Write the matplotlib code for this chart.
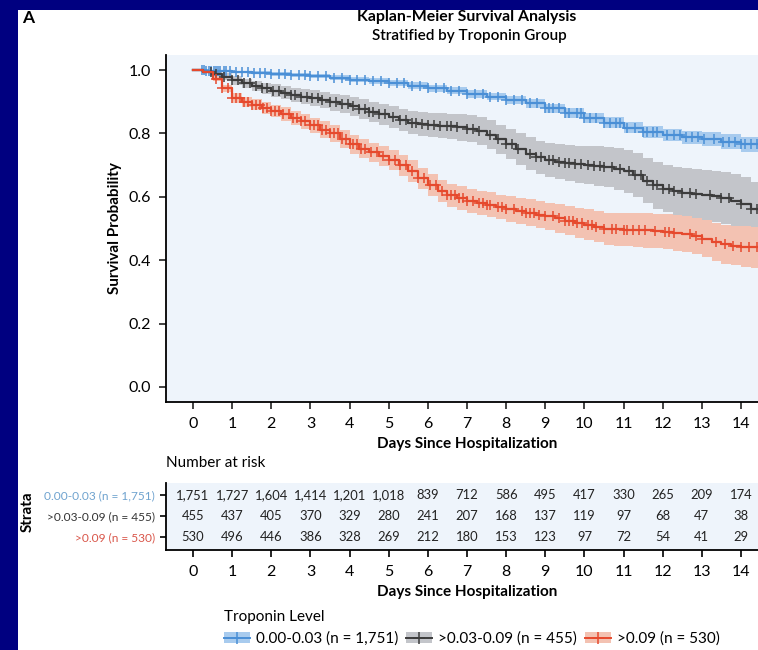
import numpy as np
import matplotlib
matplotlib.use("Agg")
import matplotlib.pyplot as plt
from matplotlib.patches import Rectangle, Patch
from matplotlib.lines import Line2D

plt.rcParams['font.family'] = ['Lato', 'DejaVu Sans']

# ---------------- data ----------------
groups = ["0.00-0.03 (n = 1,751)", ">0.03-0.09 (n = 455)", ">0.09 (n = 530)"]

blue_t = [0, 0.3, 0.6, 1, 1.5, 2, 2.5, 3, 3.5, 4, 4.5, 5, 5.5, 6, 6.5, 7, 7.5, 8, 8.5, 9,
          9.5, 10, 10.5, 11, 11.5, 12, 12.5, 13, 13.5, 14, 14.5]
blue_s = [1.0, 0.998, 0.996, 0.994, 0.991, 0.988, 0.985, 0.981, 0.976, 0.970, 0.965, 0.958,
          0.951, 0.943, 0.934, 0.925, 0.916, 0.906, 0.895, 0.879, 0.864, 0.849, 0.834, 0.818,
          0.803, 0.795, 0.788, 0.781, 0.774, 0.766, 0.759]
blue_hw = [0.0, 0.002, 0.003, 0.004, 0.005, 0.006, 0.006, 0.007, 0.008, 0.009, 0.009, 0.010,
           0.010, 0.011, 0.011, 0.012, 0.012, 0.013, 0.014, 0.015, 0.015, 0.016, 0.017, 0.018,
           0.019, 0.020, 0.021, 0.022, 0.023, 0.024, 0.025]

quarter_t = [0, 0.25, 0.5, 0.75, 1, 1.25, 1.5, 1.75, 2, 2.25, 2.5, 2.75, 3, 3.25, 3.5, 3.75,
             4, 4.25, 4.5, 4.75, 5, 5.25, 5.5, 5.75, 6, 6.25, 6.5, 6.75, 7, 7.25, 7.5, 7.75,
             8, 8.25, 8.5, 8.75, 9, 9.25, 9.5, 9.75, 10, 10.25, 10.5, 10.75, 11, 11.25, 11.5,
             11.75, 12, 12.25, 12.5, 12.75, 13, 13.25, 13.5, 13.75, 14, 14.25, 14.5]

gray_t = quarter_t
gray_s = [1.0, 0.995, 0.988, 0.978, 0.968, 0.958, 0.950, 0.942, 0.935, 0.928,
          0.922, 0.916, 0.911, 0.905, 0.898, 0.892, 0.885, 0.876, 0.868, 0.860,
          0.852, 0.842, 0.834, 0.829, 0.826, 0.824, 0.822, 0.819, 0.815, 0.807,
          0.796, 0.781, 0.766, 0.750, 0.736, 0.724, 0.715, 0.710, 0.706, 0.703,
          0.700, 0.697, 0.694, 0.688, 0.680, 0.668, 0.650, 0.636, 0.626, 0.618,
          0.612, 0.609, 0.606, 0.601, 0.596, 0.588, 0.578, 0.562, 0.552]
gray_hw = [0.0, 0.005, 0.008, 0.011, 0.014, 0.015, 0.016, 0.018, 0.020, 0.021,
           0.022, 0.024, 0.025, 0.026, 0.027, 0.029, 0.030, 0.031, 0.032, 0.033,
           0.034, 0.035, 0.036, 0.037, 0.038, 0.039, 0.040, 0.042, 0.043, 0.044,
           0.045, 0.046, 0.048, 0.050, 0.052, 0.053, 0.054, 0.055, 0.056, 0.058,
           0.060, 0.062, 0.063, 0.065, 0.067, 0.069, 0.071, 0.073, 0.075, 0.076,
           0.078, 0.079, 0.080, 0.081, 0.082, 0.084, 0.085, 0.086, 0.087]

red_t = quarter_t
red_s = [1.0, 0.993, 0.972, 0.942, 0.912, 0.898, 0.890, 0.881, 0.871, 0.861,
         0.850, 0.838, 0.825, 0.812, 0.800, 0.783, 0.766, 0.752, 0.740, 0.728,
         0.715, 0.700, 0.682, 0.658, 0.636, 0.618, 0.605, 0.596, 0.588, 0.581,
         0.575, 0.568, 0.562, 0.556, 0.550, 0.544, 0.538, 0.532, 0.525, 0.518,
         0.512, 0.505, 0.499, 0.497, 0.496, 0.495, 0.494, 0.492, 0.490, 0.486,
         0.482, 0.476, 0.468, 0.458, 0.450, 0.446, 0.443, 0.441, 0.440]
red_hw = [0.0, 0.004, 0.008, 0.012, 0.015, 0.016, 0.017, 0.019, 0.020, 0.021,
          0.022, 0.024, 0.025, 0.026, 0.027, 0.029, 0.030, 0.030, 0.031, 0.031,
          0.032, 0.033, 0.034, 0.034, 0.035, 0.035, 0.036, 0.037, 0.038, 0.038,
          0.039, 0.039, 0.040, 0.041, 0.042, 0.043, 0.044, 0.045, 0.046, 0.047,
          0.048, 0.049, 0.050, 0.051, 0.052, 0.053, 0.054, 0.054, 0.055, 0.056,
          0.057, 0.058, 0.059, 0.060, 0.061, 0.062, 0.064, 0.065, 0.066]

blue_c = [0.22, 0.28, 0.34, 0.4, 0.47, 0.53, 0.58, 0.63, 0.7, 0.78, 0.85, 0.95, 1.1, 1.25,
          1.4, 1.55, 1.7, 1.85, 2.0, 2.2, 2.35, 2.5, 2.7, 2.85, 3.0, 3.2, 3.4, 3.6, 3.8, 4.0,
          4.2, 4.4, 4.6, 4.8, 5.0, 5.2, 5.4, 5.6, 5.8, 6.0, 6.2, 6.4, 6.6, 6.8, 7.0, 7.2, 7.4,
          7.6, 7.8, 8.0, 8.2, 8.4, 8.6, 8.8, 9.0, 9.1, 9.2, 9.35, 9.5, 9.6, 9.8, 9.9, 10.0,
          10.15, 10.3, 10.5, 10.65, 10.8, 10.9, 11.1, 11.3, 11.5, 11.6, 11.75, 11.85, 12.1,
          12.3, 12.45, 12.6, 12.75, 12.9, 13.05, 13.3, 13.55, 13.7, 13.85, 14.0, 14.1, 14.25,
          14.4]
gray_c = [0.45, 0.6, 0.8, 1.0, 1.15, 1.3, 1.45, 1.6, 1.75, 1.9, 2.05, 2.2, 2.35, 2.5, 2.6,
          2.75, 2.9, 3.05, 3.2, 3.3, 3.5, 3.65, 3.8, 3.95, 4.1, 4.25, 4.4, 4.5, 4.6, 4.75,
          4.9, 5.1, 5.3, 5.45, 5.6, 5.7, 5.85, 6.0, 6.15, 6.3, 6.5, 6.6, 6.75, 7.0, 7.15, 7.3,
          7.6, 7.8, 8.0, 8.15, 8.3, 8.6, 8.75, 8.9, 9.1, 9.2, 9.35, 9.5, 9.6, 9.75, 9.9, 10.1,
          10.25, 10.4, 10.5, 10.7, 10.9, 11.15, 11.3, 11.45, 11.6, 11.75, 11.85, 12.0, 12.15,
          12.3, 12.5, 12.7, 12.85, 13.2, 13.5, 13.7, 14.0, 14.25, 14.4]
red_c = [0.6, 0.75, 0.9, 1.0, 1.1, 1.2, 1.3, 1.4, 1.5, 1.6, 1.7, 1.8, 1.9, 2.0, 2.1, 2.2,
         2.3, 2.45, 2.55, 2.65, 2.75, 2.85, 3.0, 3.1, 3.2, 3.3, 3.4, 3.5, 3.6, 3.7, 3.8, 3.9,
         4.0, 4.1, 4.2, 4.3, 4.4, 4.55, 4.7, 4.85, 5.0, 5.15, 5.3, 5.45, 5.6, 5.75, 5.9, 6.05,
         6.2, 6.35, 6.5, 6.6, 6.7, 6.8, 6.9, 7.0, 7.15, 7.3, 7.4, 7.5, 7.6, 7.8, 7.9, 8.0,
         8.2, 8.4, 8.5, 8.6, 8.7, 8.85, 9.0, 9.2, 9.35, 9.5, 9.6, 9.7, 9.8, 9.95, 10.1, 10.2,
         10.3, 10.5, 10.7, 10.8, 11.0, 11.1, 11.25, 11.4, 11.55, 11.8, 12.05, 12.15, 12.3,
         12.7, 12.85, 13.0, 13.35, 13.6, 13.8, 14.0, 14.2, 14.4]

days = list(range(0, 15))
risk_blue = ["1,751", "1,727", "1,604", "1,414", "1,201", "1,018", "839", "712", "586", "495",
             "417", "330", "265", "209", "174"]
risk_gray = ["455", "437", "405", "370", "329", "280", "241", "207", "168", "137", "119", "97",
             "68", "47", "38"]
risk_red = ["530", "496", "446", "386", "328", "269", "212", "180", "153", "123", "97", "72",
            "54", "41", "29"]

line_cols = ["#4A8FD6", "#3C3C3C", "#E6492D"]
band_cols = ["#A8CBEE", "#C3C5CA", "#F3C2B2"]
label_cols = ["#6FA3CF", "#333333", "#D9564A"]
panel_bg = "#EEF4FB"

# ---------------- figure ----------------
W, H = 758, 650
fig = plt.figure(figsize=(W / 100, H / 100), dpi=100, facecolor="#000080")
fig.patches.append(Rectangle((18 / W, 0), 1, 1 - 10 / H, transform=fig.transFigure,
                             facecolor="white", edgecolor="none", zorder=-10))


def fx(px):
    return px / W


def fy(py):
    return 1 - py / H


ax_left, ax_right = 166, 785
xl_frac = (467 - ax_left) / (ax_right - ax_left)
ax = fig.add_axes([fx(ax_left), fy(402), (ax_right - ax_left) / W, (402 - 55) / H])
ax.set_facecolor(panel_bg)
ppd = (741 - 193) / 14.0
ax.set_xlim((ax_left - 193) / ppd, (ax_right - 193) / ppd)
ax.set_ylim(-(402 - 387) / 317, 1 + (70 - 55) / 317)

series = [(blue_t, blue_s, blue_hw, blue_c), (gray_t, gray_s, gray_hw, gray_c),
          (red_t, red_s, red_hw, red_c)]
for i, (t, s, hw, c) in enumerate(series):
    t = np.array(t); s = np.array(s); hw = np.array(hw)
    ax.fill_between(t, s - hw, s + hw, step="post", color=band_cols[i], lw=0, zorder=1 + i * 0.1)
for i, (t, s, hw, c) in enumerate(series):
    t = np.array(t); s = np.array(s)
    ax.step(t, s, where="post", color=line_cols[i], lw=1.6, zorder=3)
    c = np.array(c)
    idx = np.searchsorted(t, c, side="right") - 1
    ax.plot(c, s[idx], ls="none", marker="+", ms=7.5, mew=1.1, color=line_cols[i], zorder=3)

for sp in ["top", "right"]:
    ax.spines[sp].set_visible(False)
for sp in ["left", "bottom"]:
    ax.spines[sp].set_linewidth(1.3)
ax.set_yticks([0, 0.2, 0.4, 0.6, 0.8, 1.0])
ax.set_yticklabels(["0.0", "0.2", "0.4", "0.6", "0.8", "1.0"])
ax.set_xticks(days)
ax.tick_params(axis="both", labelsize=11.5, length=5, width=1.2, color="#222222", pad=6)
ax.set_ylabel("Survival Probability", fontsize=11, fontweight="bold")
ax.yaxis.set_label_coords((122 - ax_left) / (ax_right - ax_left), 0.5)
ax.set_xlabel("Days Since Hospitalization", fontsize=11, fontweight="bold", labelpad=4)
ax.xaxis.label.set_position((xl_frac, 0))

# ---------------- risk table ----------------
tb = fig.add_axes([fx(ax_left), fy(550), (ax_right - ax_left) / W, (550 - 483) / H])
tb.set_facecolor(panel_bg)
tb.set_xlim(ax.get_xlim())
tb.set_ylim(2.6, -0.55)
for r, row in enumerate([risk_blue, risk_gray, risk_red]):
    for d, v in zip(days, row):
        tb.text(d, r, v, ha="center", va="center", fontsize=9.4, color="#222222")
for sp in ["top", "right"]:
    tb.spines[sp].set_visible(False)
for sp in ["left", "bottom"]:
    tb.spines[sp].set_linewidth(1.3)
tb.set_yticks([0, 1, 2])
tb.set_yticklabels(groups)
for lab, col in zip(tb.get_yticklabels(), label_cols):
    lab.set_color(col)
tb.tick_params(axis="y", labelsize=8.6, length=4, width=1.2, pad=4)
tb.set_xticks(days)
tb.tick_params(axis="x", labelsize=11.5, length=5, width=1.2, pad=6)
tb.set_xlabel("Days Since Hospitalization", fontsize=11, fontweight="bold", labelpad=4)
tb.xaxis.label.set_position((xl_frac, 0))
fig.text(fx(28), fy(512), "Strata", rotation=90, fontsize=11, fontweight="bold",
         ha="center", va="center")
fig.text(fx(166), fy(463), "Number at risk", fontsize=11, ha="left", va="center")

# ---------------- titles ----------------
fig.text(fx(22), fy(18), "A", fontsize=12.5, fontweight="bold", ha="left", va="center")
fig.text(fx(467), fy(17), "Kaplan-Meier Survival Analysis", fontsize=11.4, fontweight="bold",
         ha="center", va="center")
fig.text(fx(469), fy(36), "Stratified by Troponin Group", fontsize=11, fontweight="semibold",
         ha="center", va="center")

# ---------------- legend ----------------
handles = []
for i in range(3):
    handles.append((Patch(facecolor=band_cols[i], edgecolor="none"),
                    Line2D([], [], color=line_cols[i], lw=1.4, marker="+", ms=9, mew=1.1)))
leg = fig.legend(handles, groups, loc="upper left", bbox_to_anchor=(fx(218), fy(604)),
                 ncol=3, frameon=False, fontsize=11, title="Troponin Level",
                 title_fontsize=11, handlelength=1.7, handletextpad=0.4, columnspacing=0.5,
                 alignment="left", borderaxespad=0)

fig.savefig("out.png", dpi=100, facecolor=fig.get_facecolor())
